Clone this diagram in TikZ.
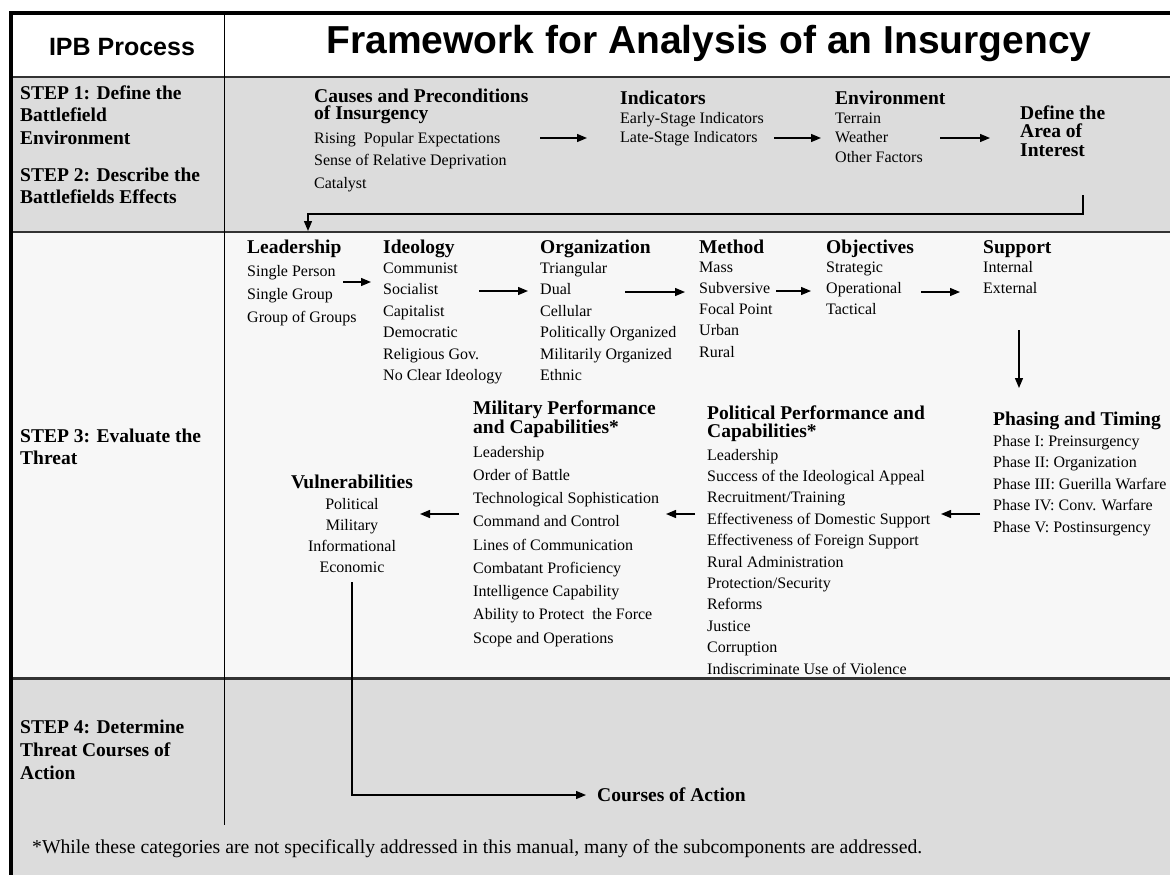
\documentclass[tikz,border=0pt]{standalone}
\usepackage{fontspec}
\setmainfont{Liberation Serif}
\newfontfamily\sansb{Liberation Sans}
\usetikzlibrary{arrows.meta}
\definecolor{bandgrey}{HTML}{DCDCDC}
\definecolor{lightband}{HTML}{F7F7F7}
\definecolor{rulegrey}{HTML}{333333}
\begin{document}
\begin{tikzpicture}[x=1pt,y=-1pt,
  hd/.style={font=\bfseries\fontsize{19.5}{#1}\selectfont, anchor=base west, inner sep=0pt, align=left},
  hd/.default=17.5,
  it/.style={font=\fontsize{16}{#1}\selectfont, anchor=base west, inner sep=0pt, align=left},
  it/.default=21.5,
  steplbl/.style={font=\bfseries\fontsize{19.5}{#1}\selectfont, anchor=base west, inner sep=0pt, align=left},
  steplbl/.default=22.5,
  arr/.style={-{Triangle[length=10pt,width=8pt]}, line width=1.3pt}
]
% note: for multi-line nodes the base anchor is the baseline of the LAST line
\clip (0,0) rectangle (1170,875);
\fill[white] (0,0) rectangle (1170,875);
% bands
\fill[white] (11,13) rectangle (1180,77);
\fill[bandgrey] (11,77) rectangle (1180,232);
\fill[lightband] (11,232) rectangle (1180,678);
\fill[bandgrey] (11,678) rectangle (1180,880);
% rules
\draw[rulegrey, line width=1.5pt] (11,77) -- (1180,77);
\draw[rulegrey, line width=2pt] (11,232) -- (1180,232);
\draw[rulegrey, line width=3pt] (11,678) -- (1180,678);
\draw[black, line width=1pt] (224,13) -- (224,825);
% outer frame
\draw[black, line width=4pt] (11,880) -- (11,13) -- (1180,13);

% header
\node[font=\sansb\bfseries\fontsize{25}{30}\selectfont, anchor=base, inner sep=0pt] (ipb) at (122,56) {IPB Process};
\node[font=\sansb\bfseries\fontsize{39}{45}\selectfont, anchor=base, inner sep=0pt] (title) at (709,54) {Framework for Analysis of an Insurgency};

% step labels
\node[steplbl] (s1) at (20,144) {STEP 1: Define the\\Battlefield\\Environment};
\node[steplbl] (s2) at (20,203.5) {STEP 2: Describe the\\Battlefields Effects};
\node[steplbl=22] (s3) at (20,464) {STEP 3: Evaluate the\\Threat};
\node[steplbl=23] (s4) at (20,779) {STEP 4: Determine\\Threat Courses of\\Action};

% row 1/2
\node[hd=17] (causesH) at (314,119) {Causes and Preconditions\\of Insurgency};
\node[it=22.5] (causes) at (314,188) {Rising\ \ Popular Expectations\\Sense of Relative Deprivation\\Catalyst};
\node[hd] (indH) at (620,104) {Indicators};
\node[it=19.5] (ind) at (620,142.5) {Early-Stage Indicators\\Late-Stage Indicators};
\node[hd] (envH) at (835,104) {Environment};
\node[it=19.5] (env) at (835,162) {Terrain\\Weather\\Other Factors};
\node[hd=18.5] (aoi) at (1020,156) {Define the\\Area of\\Interest};

\coordinate (a1s) at (540,138); \coordinate (a1e) at (587,138);
\coordinate (a2s) at (774,138); \coordinate (a2e) at (821,138);
\coordinate (a3s) at (940,138); \coordinate (a3e) at (990,138);
\draw[arr] (a1s) -- (a1e);
\draw[arr] (a2s) -- (a2e);
\draw[arr] (a3s) -- (a3e);
\coordinate (fbs) at (1083,195); \coordinate (fbe) at (308,231);
\draw[arr] (fbs) -- ++(0,19) -| (fbe);

% row 3 top
\node[hd] (leadH) at (247,253) {Leadership};
\node[it=23] (lead) at (247,322) {Single Person\\Single Group\\Group of Groups};
\node[hd] (ideoH) at (383,253) {Ideology};
\node[it] (ideo) at (383,380.5) {Communist\\Socialist\\Capitalist\\Democratic\\Religious Gov.\\No Clear Ideology};
\node[hd] (orgH) at (540,253) {Organization};
\node[it] (org) at (540,380.5) {Triangular\\Dual\\Cellular\\Politically Organized\\Militarily Organized\\Ethnic};
\node[hd] (methH) at (699,253) {Method};
\node[it=21.3] (meth) at (699,357.2) {Mass\\Subversive\\Focal Point\\Urban\\Rural};
\node[hd] (objH) at (826,253) {Objectives};
\node[it=21.3] (obj) at (826,314.6) {Strategic\\Operational\\Tactical};
\node[hd] (supH) at (983,253) {Support};
\node[it=21.3] (sup) at (983,293.3) {Internal\\External};

\coordinate (b1s) at (343,282); \coordinate (b1e) at (371,282);
\coordinate (b2s) at (479,291); \coordinate (b2e) at (528,291);
\coordinate (b3s) at (625,292); \coordinate (b3e) at (685,292);
\coordinate (b4s) at (776,291); \coordinate (b4e) at (811,291);
\coordinate (b5s) at (921,292); \coordinate (b5e) at (960,292);
\coordinate (b6s) at (1019,330); \coordinate (b6e) at (1019,388);
\draw[arr] (b1s) -- (b1e);
\draw[arr] (b2s) -- (b2e);
\draw[arr] (b3s) -- (b3e);
\draw[arr] (b4s) -- (b4e);
\draw[arr] (b5s) -- (b5e);
\draw[arr] (b6s) -- (b6e);

% row 3 bottom
\node[hd] (phH) at (993,425) {Phasing and Timing};
\node[it] (ph) at (993,532) {Phase I: Preinsurgency\\Phase II: Organization\\Phase III: Guerilla Warfare\\Phase IV: Conv. Warfare\\Phase V: Postinsurgency};
\node[hd=18] (polH) at (707,437) {Political Performance and\\Capabilities*};
\node[it=21.4] (pol) at (707,674) {Leadership\\Success of the Ideological Appeal\\Recruitment/Training\\Effectiveness of Domestic Support\\Effectiveness of Foreign Support\\Rural Administration\\Protection/Security\\Reforms\\Justice\\Corruption\\Indiscriminate Use of Violence};
\node[hd=15.5] (milH) at (473,433.5) {Military Performance\\and Capabilities*};
\node[it=23.25] (mil) at (473,643) {Leadership\\Order of Battle\\Technological Sophistication\\Command and Control\\Lines of Communication\\Combatant Proficiency\\Intelligence Capability\\Ability to Protect\ \ the Force\\Scope and Operations};
\node[hd, anchor=base] (vulH) at (352,488) {Vulnerabilities};
\node[it=21.3, anchor=base, align=center] (vul) at (352,572.9) {Political\\Military\\Informational\\Economic};

\coordinate (c1s) at (980,514); \coordinate (c1e) at (941,514);
\coordinate (c2s) at (695,514); \coordinate (c2e) at (666,514);
\coordinate (c3s) at (459,514); \coordinate (c3e) at (420,514);
\draw[arr] (c1s) -- (c1e);
\draw[arr] (c2s) -- (c2e);
\draw[arr] (c3s) -- (c3e);

% row 4
\node[hd] (coa) at (597,801) {Courses of Action};
\coordinate (vs) at (352,582); \coordinate (ve) at (586,795);
\draw[arr] (vs) |- (ve);

\node[font=\fontsize{19.7}{24}\selectfont, anchor=base west, inner sep=0pt] (note) at (32,853) {*While these categories are not specifically addressed in this manual, many of the subcomponents are addressed.};
\end{tikzpicture}
\end{document}
